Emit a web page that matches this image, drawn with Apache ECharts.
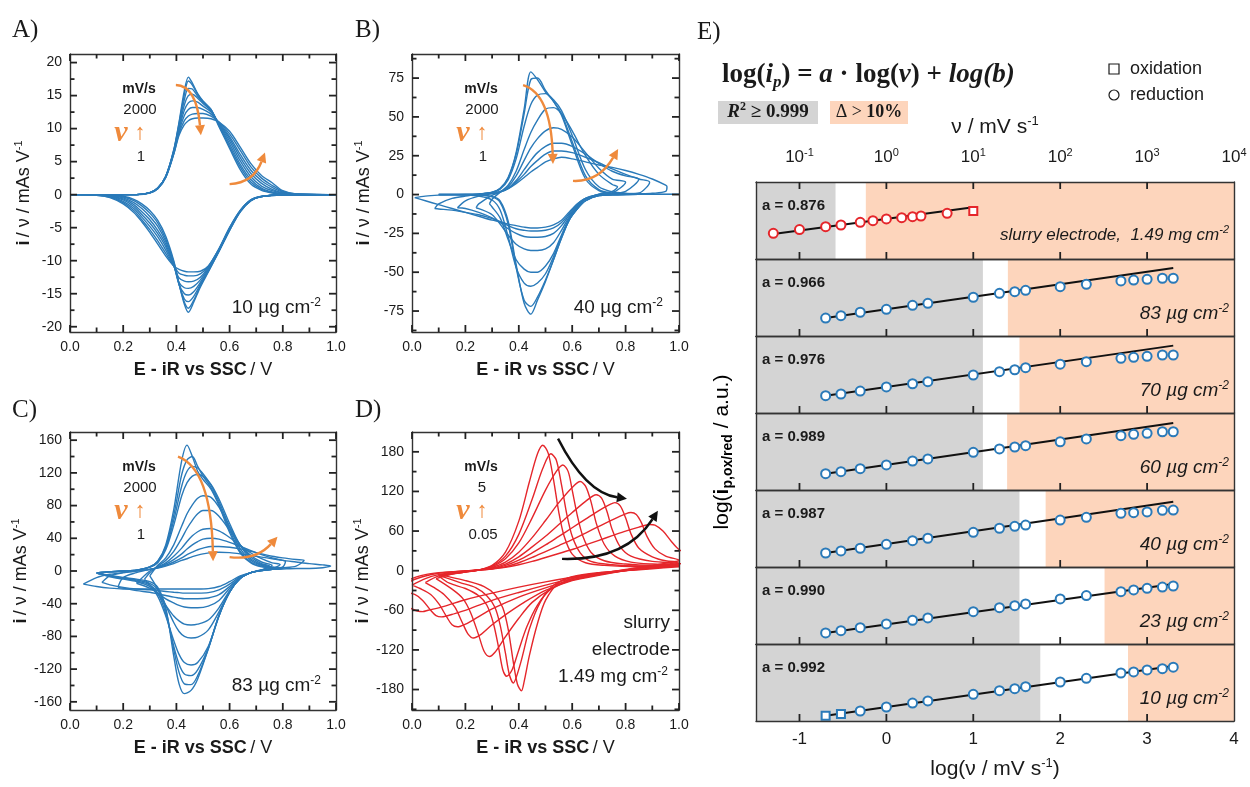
<!DOCTYPE html>
<html>
<head>
<meta charset="utf-8">
<script src="https://cdn.jsdelivr.net/npm/echarts@6/dist/echarts.min.js"></script>
<style>
  html, body { margin: 0; background: #fff; }
  #chart { width: 1250px; height: 787px; }
</style>
</head>
<body>
<div id="chart"></div>
<script>
// ---------- panel A (10 ug cm-2): anodic / cathodic branches on shared potential grids ----------
const A_OX_X = [0.25, 0.3, 0.33, 0.36, 0.39, 0.41, 0.43, 0.445, 0.46, 0.48, 0.5, 0.53, 0.56, 0.6, 0.64, 0.68, 0.72, 0.76, 0.8, 0.85];
const A_OX_Y = [
  [0, 0.3, 1.0, 2.8, 6.8, 11.0, 15.8, 17.8, 16.9, 15.3, 14.2, 12.9, 10.3, 7.0, 3.8, 1.6, 0.65, 0.25, 0.08, 0.02],
  [0, 0.3, 1.0, 2.8, 6.7, 10.8, 15.2, 17.2, 16.6, 15.2, 14.1, 12.9, 10.5, 7.3, 4.2, 1.9, 0.8, 0.3, 0.1, 0.02],
  [0, 0.3, 1.0, 2.8, 6.6, 10.5, 14.4, 16.1, 16.0, 14.9, 14.0, 12.8, 10.6, 7.7, 4.6, 2.3, 1.0, 0.4, 0.12, 0.03],
  [0, 0.3, 1.0, 2.7, 6.5, 10.2, 13.6, 15.0, 15.2, 14.6, 13.8, 12.7, 10.7, 8.1, 5.1, 2.7, 1.3, 0.6, 0.2, 0.05],
  [0, 0.28, 0.95, 2.7, 6.4, 9.9, 12.8, 13.9, 14.2, 14.0, 13.4, 12.5, 10.8, 8.5, 5.6, 3.2, 1.7, 0.8, 0.28, 0.06],
  [0, 0.27, 0.95, 2.7, 6.3, 9.6, 12.0, 12.9, 13.2, 13.2, 12.9, 12.2, 10.9, 8.8, 6.1, 3.7, 2.1, 1.1, 0.38, 0.08],
  [0, 0.26, 0.9, 2.6, 6.2, 9.3, 11.2, 11.9, 12.2, 12.3, 12.3, 11.9, 11.0, 9.2, 6.7, 4.2, 2.5, 1.4, 0.5, 0.1],
  [0, 0.25, 0.9, 2.6, 6.1, 9.0, 10.6, 11.2, 11.5, 11.6, 11.6, 11.5, 11.0, 9.6, 7.2, 4.7, 2.9, 1.8, 0.6, 0.12]
];
const A_RED_X = [0.8, 0.72, 0.68, 0.64, 0.6, 0.56, 0.52, 0.49, 0.465, 0.445, 0.43, 0.41, 0.39, 0.36, 0.33, 0.3, 0.27, 0.24, 0.2, 0.15, 0.1];
const A_RED_Y = [
  [-0.05, -0.3, -0.9, -2.6, -5.4, -8.6, -11.7, -14.0, -16.3, -17.8, -16.6, -13.5, -10.0, -6.3, -3.9, -2.4, -1.4, -0.7, -0.25, -0.05, 0],
  [-0.05, -0.3, -0.9, -2.6, -5.4, -8.6, -11.6, -13.8, -16.0, -17.2, -16.3, -13.5, -10.2, -6.7, -4.3, -2.8, -1.7, -0.9, -0.35, -0.08, 0],
  [-0.05, -0.3, -0.9, -2.5, -5.3, -8.5, -11.5, -13.6, -15.4, -16.2, -15.8, -13.6, -10.4, -7.1, -4.8, -3.3, -2.1, -1.2, -0.5, -0.12, -0.02],
  [-0.03, -0.3, -0.85, -2.5, -5.2, -8.5, -11.4, -13.3, -14.7, -15.2, -15.0, -13.6, -10.6, -7.5, -5.4, -3.8, -2.6, -1.5, -0.65, -0.18, -0.03],
  [-0.02, -0.28, -0.85, -2.5, -5.2, -8.4, -11.2, -12.9, -13.9, -14.2, -14.1, -13.3, -10.7, -7.9, -5.9, -4.3, -3.0, -1.8, -0.8, -0.24, -0.05],
  [-0.02, -0.27, -0.8, -2.5, -5.1, -8.3, -11.0, -12.5, -13.1, -13.2, -13.1, -12.6, -10.8, -8.4, -6.4, -4.8, -3.4, -2.1, -1.0, -0.3, -0.06],
  [-0.01, -0.26, -0.8, -2.4, -5.0, -8.2, -10.9, -12.0, -12.3, -12.3, -12.2, -11.9, -10.8, -8.9, -7.0, -5.3, -3.8, -2.4, -1.2, -0.38, -0.08],
  [0, -0.25, -0.8, -2.4, -5.0, -8.2, -10.8, -11.6, -11.7, -11.7, -11.6, -11.3, -10.8, -9.3, -7.5, -5.7, -4.1, -2.7, -1.4, -0.45, -0.1]
];
const A_TIP_L = [[0, 0], [0, 0], [0, 0], [0, 0], [0, 0], [0, 0], [0, 0], [0, 0]];
const A_TIP_R = [[1, 0], [1, 0], [1, 0], [1, 0], [1, 0], [1, 0], [1, 0], [1, 0]];
const A_YTICKS = [-20, -15, -10, -5, 0, 5, 10, 15, 20];

// ---------- panel B (40 ug cm-2) ----------
const B_OX_X = [0.05, 0.1, 0.15, 0.2, 0.25, 0.3, 0.33, 0.36, 0.39, 0.42, 0.445, 0.47, 0.5, 0.53, 0.56, 0.6, 0.65, 0.7, 0.75, 0.8, 0.85, 0.9, 0.95];
const B_OX_Y = [
  [null, null, 0, 0, 0.3, 1.5, 4, 11, 27, 55, 79, 74, 66, 60, 51, 32, 10, 2.5, 0.6, 0.3, 0.2, 0.1, 0.1],
  [null, null, 0, 0, 0.3, 1.4, 3.8, 10.5, 26, 52, 74, 75, 67, 60, 52, 34, 12, 3.2, 0.9, 0.4, 0.2, 0.1, 0.1],
  [null, null, 0, 0, 0.3, 1.3, 3.5, 9.5, 23, 44, 58, 64, 65, 61, 54, 38, 16, 5, 1.8, 0.8, 0.4, 0.2, 0.1],
  [null, null, null, null, null, -3, 1.5, 6, 15, 29, 40, 48, 55, 56, 52, 41, 25, 13, 6.5, null, null, null, null],
  [null, null, null, null, -6, -0.5, 1.5, 5, 12, 22, 30, 36, 41, 43, 42, 37, 27, 17, 10, null, null, null, null],
  [null, null, null, -4, -1, 0.5, 1.6, 4, 9, 16, 22, 27, 31, 33, 33, 31, 26, 20, 15, 12, null, null, null],
  [null, -6, -2.5, -1, 0, 0.8, 1.7, 3.8, 8, 13, 18, 22, 26, 28, 28, 27, 24, 20.5, 16.5, 13, 10, null, null],
  [-1, -0.4, -0.1, 0, 0.3, 1.0, 2, 3.8, 7, 11, 14.5, 17.5, 21, 23, 24, 23, 21, 19, 17.5, 15.5, 13, 10, 6]
];
const B_RED_X = [0.95, 0.9, 0.85, 0.8, 0.75, 0.7, 0.65, 0.62, 0.59, 0.56, 0.53, 0.5, 0.47, 0.445, 0.42, 0.39, 0.36, 0.33, 0.3, 0.25, 0.2, 0.15, 0.1, 0.05];
const B_RED_Y = [
  [0.1, 0.1, 0.1, 0, -0.2, -0.6, -4, -9, -16, -28, -42, -56, -68, -77, -70, -45, -17, -4, -1.2, -0.3, -0.1, 0, null, null],
  [0.1, 0.1, 0.1, 0, -0.2, -0.6, -4, -9, -16, -28, -42, -55, -66, -72, -68, -47, -19, -5, -1.5, -0.4, -0.1, 0, null, null],
  [0.1, 0.1, 0.1, 0, -0.2, -0.6, -4, -9, -16, -27, -40, -51, -57, -59, -57, -47, -27, -10, -3.5, -1, -0.3, -0.1, null, null],
  [null, null, null, null, 2, 0.3, -3, -8, -15, -26, -38, -46, -50, -50, -48, -42, -29, -15, -8, null, null, null, null, null],
  [null, null, null, null, 1, 0, -3, -7.5, -14, -23, -31, -35, -36, -36, -35, -32, -26, -19, -13, -9, null, null, null, null],
  [null, null, null, 2, 0.7, 0, -2.5, -7, -13, -20, -25, -27, -27.5, -27.5, -27, -25, -22, -18, -15, -11.5, -9, null, null, null],
  [null, 2, 1, 0.5, 0.2, -0.3, -2.5, -6, -12, -18, -21.5, -23, -23.5, -23.5, -23, -22, -20, -17.5, -15.5, -13, -11.5, -10, -9.3, null],
  [2, 0.8, 0.4, 0.2, 0, -0.5, -2.5, -6, -11, -16.5, -19.5, -21, -21.5, -21.5, -21, -20, -19, -17.5, -16.5, -14, -11.5, -9, -6.5, -4]
];
const B_TIP_L = [[0.1, 0], [0.1, 0], [0.1, 0], [0.29, -6], [0.24, -8.5], [0.17, -8.5], [0.085, -9], [0.01, -2]];
const B_TIP_R = [[1, 0.1], [1, 0.1], [1, 0.1], [0.77, 5], [0.8, 8], [0.85, 10], [0.89, 8], [0.955, 5]];
const B_YTICKS = [-75, -50, -25, 0, 25, 50, 75];

// ---------- panel C (83 ug cm-2) ----------
const C_OX_X = [0.05, 0.1, 0.15, 0.2, 0.25, 0.3, 0.33, 0.36, 0.39, 0.42, 0.44, 0.46, 0.48, 0.5, 0.53, 0.56, 0.6, 0.64, 0.68, 0.72, 0.76, 0.8, 0.85, 0.9, 0.95];
const C_OX_Y = [
  [null, null, -1, 0, 1, 5, 12, 32, 75, 135, 154, 140, 122, 112, 100, 80, 47, 22, 10, 5, 3.5, null, null, null, null],
  [null, null, -1, 0, 1, 5, 12, 30, 68, 118, 136, 140, 128, 116, 102, 82, 50, 24, 11, 6, 4, null, null, null, null],
  [null, null, -1, 0, 1, 5, 11, 28, 62, 104, 122, 128, 126, 119, 105, 85, 54, 27, 13, 7, 4.5, null, null, null, null],
  [null, null, -1, 0, 1, 4.5, 10, 26, 56, 92, 108, 116, 118, 116, 106, 88, 58, 31, 15, 8, 5, null, null, null, null],
  [null, null, null, null, null, null, 7, 16, 32, 55, 70, 81, 89, 92, 90, 78, 54, 32, 17, 9, null, null, null, null, null],
  [null, null, null, null, null, -2, 6, 13, 24, 40, 52, 62, 70, 74, 74, 67, 50, 32, 19, 11, null, null, null, null, null],
  [null, null, null, null, null, 0, 5, 10, 18, 28, 36, 43, 48, 51, 52, 49, 41, 31, 22, 15, 10, null, null, null, null],
  [null, null, null, -8, -2, 2, 4.5, 8.5, 14, 21, 27, 32, 36, 39, 40, 39, 35, 30, 25, 20, 16, 13, null, null, null],
  [null, null, -6, -2, 0, 2, 4, 7, 11, 16, 20, 23, 26, 28, 30, 30, 29, 27, 24, 21, 18, 16, 14, null, null],
  [null, -8, -4, -2, 0, 2, 3.5, 6, 9, 13, 15, 17.5, 19.5, 21, 22.5, 23, 22.5, 21, 19, 17, 15, 13, 11, 9, 7.5]
];
const C_RED_X = [0.95, 0.9, 0.85, 0.8, 0.76, 0.72, 0.68, 0.64, 0.6, 0.56, 0.52, 0.48, 0.455, 0.43, 0.41, 0.39, 0.36, 0.33, 0.3, 0.25, 0.2, 0.15, 0.1, 0.05];
const C_RED_Y = [
  [null, null, null, null, 2, 0.5, -2, -9, -26, -55, -95, -132, -146, -150, -138, -104, -45, -20, -13, -10, -8, -5.5, null, null],
  [null, null, null, null, 2, 0.5, -2, -9, -26, -55, -95, -128, -139, -138, -124, -96, -48, -23, -15, -11, -8.5, -6, null, null],
  [null, null, null, null, 2, 0.5, -2, -9, -26, -55, -94, -121, -128, -126, -114, -92, -52, -27, -17, -12, -9, -6.5, null, null],
  [null, null, null, null, 2, 0.5, -2, -9, -26, -54, -92, -112, -115, -112, -102, -85, -55, -31, -19, -13, -10, -7, null, null],
  [null, null, null, null, null, 1, -2, -9, -25, -50, -72, -81, -82, -80, -74, -63, -42, -22, null, null, null, null, null, null],
  [null, null, null, null, null, 1.5, -2, -9, -24, -45, -60, -65, -66, -65, -61, -55, -42, -28, -17, null, null, null, null, null],
  [null, null, null, null, 3, 1, -2, -8, -21, -36, -43, -45, -45, -44, -42, -39, -34, -27, -21, null, null, null, null, null],
  [null, null, null, 5, 3, 1, -2, -8, -19, -29, -33, -34, -34, -34, -33, -32, -30, -28, -26, -24, -21, null, null, null],
  [null, null, 6, 4, 3, 1, -2, -7, -16, -23, -26.5, -27, -27, -27, -26.5, -26, -25, -24, -23, -22, -20, -17, null, null],
  [4, 3, 3, 2.5, 2, 0.5, -2, -6, -13, -19, -21.5, -22, -22, -22, -22, -22, -22, -22, -22, -22, -22, -21, -19, null]
];
const C_TIP_L = [[0.1, -2.5], [0.1, -2.5], [0.1, -2.5], [0.1, -2.5], [0.3, -6], [0.28, -10], [0.25, -15], [0.18, -20], [0.12, -14], [0.05, -16]];
const C_TIP_R = [[0.8, 3], [0.8, 3], [0.8, 3.5], [0.8, 4], [0.75, 6], [0.76, 7], [0.79, 8], [0.81, 12], [0.88, 13], [0.98, 6]];
const C_YTICKS = [-160, -120, -80, -40, 0, 40, 80, 120, 160];

// ---------- panel D (slurry electrode), one point list per branch ----------
const D_OX = [
  [[0.1, -6], [0.2, -2], [0.25, 1], [0.3, 8], [0.35, 28], [0.4, 75], [0.44, 135], [0.47, 177], [0.49, 190], [0.51, 178], [0.53, 138], [0.55, 88], [0.57, 52], [0.6, 25], [0.65, 12], [0.72, 8], [0.85, 6], [1.0, 6]],
  [[0.1, -7], [0.2, -2], [0.25, 1], [0.3, 7], [0.35, 22], [0.4, 55], [0.45, 108], [0.49, 155], [0.52, 177], [0.54, 168], [0.56, 130], [0.58, 85], [0.6, 52], [0.63, 27], [0.67, 14], [0.75, 9], [0.85, 7], [1.0, 7]],
  [[0.1, -8], [0.2, -2], [0.25, 1], [0.3, 6], [0.35, 18], [0.4, 42], [0.45, 80], [0.5, 122], [0.54, 150], [0.565, 160], [0.585, 150], [0.6, 122], [0.62, 82], [0.64, 52], [0.67, 28], [0.72, 15], [0.8, 10], [0.9, 8], [1.0, 8]],
  [[0.09, -12], [0.15, -5], [0.2, -2], [0.25, 1], [0.3, 5], [0.35, 13], [0.4, 28], [0.45, 50], [0.5, 76], [0.55, 103], [0.6, 126], [0.63, 135], [0.65, 128], [0.67, 105], [0.69, 72], [0.72, 40], [0.76, 22], [0.82, 13], [0.9, 10], [1.0, 9]],
  [[0.05, -18], [0.1, -8], [0.15, -4], [0.2, -1], [0.25, 1], [0.3, 4], [0.35, 10], [0.4, 21], [0.45, 36], [0.5, 52], [0.55, 70], [0.6, 88], [0.65, 105], [0.69, 115], [0.71, 110], [0.73, 90], [0.75, 62], [0.78, 36], [0.82, 22], [0.9, 14], [1.0, 11]],
  [[0.0, -22], [0.05, -12], [0.1, -6], [0.15, -3], [0.2, -1], [0.25, 1], [0.3, 3], [0.35, 8], [0.4, 16], [0.45, 27], [0.5, 39], [0.55, 52], [0.6, 65], [0.65, 78], [0.7, 91], [0.74, 100], [0.76, 103], [0.78, 98], [0.8, 80], [0.82, 56], [0.85, 34], [0.9, 21], [0.95, 15], [1.0, 13]],
  [[-0.05, -30], [0.0, -15], [0.05, -8], [0.1, -4], [0.15, -2], [0.2, -0.5], [0.25, 1], [0.3, 3], [0.35, 6], [0.4, 12], [0.45, 20], [0.5, 29], [0.55, 38], [0.6, 47], [0.65, 57], [0.7, 67], [0.75, 77], [0.8, 86], [0.82, 88], [0.84, 85], [0.86, 72], [0.88, 52], [0.91, 33], [0.95, 22], [1.0, 16]],
  [[-0.1, -45], [-0.05, -25], [0.0, -12], [0.05, -6], [0.1, -3], [0.15, -1.5], [0.2, 0], [0.25, 1], [0.3, 2.5], [0.35, 5], [0.4, 9], [0.45, 14], [0.5, 20], [0.55, 26], [0.6, 32], [0.65, 39], [0.7, 46], [0.75, 53], [0.8, 60], [0.85, 66], [0.89, 70], [0.91, 69], [0.94, 60], [0.97, 45], [1.0, 32], [1.05, 20]]
];
const D_RED = [
  [[1.0, 6], [0.9, 3], [0.8, 0], [0.7, -3], [0.6, -9], [0.55, -18], [0.5, -45], [0.47, -80], [0.44, -128], [0.42, -168], [0.41, -182], [0.395, -172], [0.38, -140], [0.36, -88], [0.34, -56], [0.31, -36], [0.27, -24], [0.2, -15], [0.1, -6]],
  [[1.0, 7], [0.9, 4], [0.8, 0], [0.7, -4], [0.6, -10], [0.53, -22], [0.48, -48], [0.44, -88], [0.41, -135], [0.39, -162], [0.38, -170], [0.365, -158], [0.35, -125], [0.33, -82], [0.31, -55], [0.28, -38], [0.24, -26], [0.18, -18], [0.1, -7]],
  [[1.0, 8], [0.9, 4], [0.8, 0], [0.7, -5], [0.6, -12], [0.52, -28], [0.47, -52], [0.43, -85], [0.4, -120], [0.375, -150], [0.355, -160], [0.34, -150], [0.325, -118], [0.305, -80], [0.28, -52], [0.25, -38], [0.2, -27], [0.14, -19], [0.1, -8]],
  [[1.0, 9], [0.9, 5], [0.8, 0], [0.7, -6], [0.6, -14], [0.52, -28], [0.45, -48], [0.4, -72], [0.35, -100], [0.31, -124], [0.29, -130], [0.27, -122], [0.25, -98], [0.22, -64], [0.19, -42], [0.15, -28], [0.09, -12]],
  [[1.0, 11], [0.9, 6], [0.8, 0], [0.7, -7], [0.6, -15], [0.5, -30], [0.42, -48], [0.36, -64], [0.3, -82], [0.26, -96], [0.23, -102], [0.21, -96], [0.19, -80], [0.16, -55], [0.12, -36], [0.08, -25], [0.05, -18]],
  [[1.0, 13], [0.9, 7], [0.8, 1], [0.7, -6], [0.6, -14], [0.5, -26], [0.4, -40], [0.3, -58], [0.24, -72], [0.2, -81], [0.17, -85], [0.15, -82], [0.13, -70], [0.1, -50], [0.07, -36], [0.03, -27], [0.0, -22]],
  [[1.0, 16], [0.9, 8], [0.8, 2], [0.7, -5], [0.6, -12], [0.5, -22], [0.4, -33], [0.3, -45], [0.22, -57], [0.16, -65], [0.11, -70], [0.09, -68], [0.07, -60], [0.04, -45], [0.01, -36], [-0.05, -30]],
  [[1.05, 20], [1.0, 10], [0.9, 5], [0.8, 1], [0.7, -4], [0.6, -10], [0.5, -17], [0.4, -25], [0.3, -34], [0.2, -44], [0.12, -54], [0.06, -60], [0.04, -62], [0.02, -61], [0.0, -58], [-0.05, -50], [-0.1, -45]]
];
const D_YTICKS = [-180, -120, -60, 0, 60, 120, 180];
const CV_XTICKS = [0, 0.2, 0.4, 0.6, 0.8, 1.0];

// ---------- panel E: peak currents vs scan rate ----------
const E_SPEEDS = [0.2, 0.3, 0.5, 1, 2, 3, 10, 20, 30, 40, 100, 200, 500, 700, 1000, 1500, 2000];
const E_SLURRY_SPEEDS = [0.05, 0.1, 0.2, 0.3, 0.5, 0.7, 1, 1.5, 2, 2.5, 5, 10];
const E_SLURRY = [2.00, 2.29, 2.52, 2.65, 2.86, 2.99, 3.12, 3.22, 3.30, 3.35, 3.56, 3.74];
const E_83 = [1.40, 1.58, 1.85, 2.08, 2.39, 2.55, 3.02, 3.33, 3.45, 3.56, 3.84, 4.03, 4.29, 4.36, 4.42, 4.50, 4.50];
const E_70 = [1.35, 1.48, 1.71, 2.03, 2.28, 2.44, 2.96, 3.22, 3.37, 3.53, 3.80, 4.00, 4.26, 4.34, 4.42, 4.52, 4.52];
const E_60 = [1.27, 1.43, 1.66, 1.95, 2.26, 2.42, 2.94, 3.20, 3.35, 3.45, 3.76, 3.98, 4.23, 4.34, 4.42, 4.54, 4.54];
const E_40 = [1.09, 1.25, 1.46, 1.77, 2.05, 2.24, 2.70, 3.02, 3.17, 3.27, 3.66, 3.87, 4.18, 4.23, 4.29, 4.42, 4.44];
const E_23 = [0.86, 1.04, 1.27, 1.56, 1.85, 2.03, 2.52, 2.83, 2.99, 3.12, 3.51, 3.77, 4.08, 4.21, 4.34, 4.44, 4.52];
const E_10 = [0.41, 0.55, 0.78, 1.09, 1.40, 1.56, 2.08, 2.36, 2.52, 2.67, 3.04, 3.33, 3.74, 3.82, 3.98, 4.08, 4.19];
const E_OX_POINTS = [[11], [], [], [], [], [], [0, 1]];     // indices drawn as squares (oxidation)
const E_FIT_X = [[0.05, 10], [0.2, 2000], [0.2, 2000], [0.2, 2000], [0.2, 2000], [0.2, 2000], [0.2, 2000]];
const E_FIT_Y = [[1.95, 4.03], [1.40, 5.30], [1.35, 5.25], [1.27, 5.22], [1.09, 5.09], [0.86, 4.68], [0.41, 4.29]];
const E_A = ['0.876', '0.966', '0.976', '0.989', '0.987', '0.990', '0.992'];
const E_LABELS = ['slurry electrode,  1.49 mg cm', '83 µg cm', '70 µg cm', '60 µg cm', '40 µg cm', '23 µg cm', '10 µg cm'];
const E_GRAY_END = [0.26, 12.9, 12.9, 12.9, 34, 34, 59];
const E_ORANGE_START = [0.58, 25, 34, 24.5, 68, 324, 603];
const E_XTICKS = [0.1, 1, 10, 100, 1000];

// ---------- styling ----------
const SANS = 'Liberation Sans, Arial, sans-serif';
const SERIF = 'Liberation Serif, Times New Roman, serif';
const BLUE = '#2a7ab9';
const RED = '#e5262b';
const ORANGE = '#ef8a3c';
const INK = '#1a1a1a';
const AX = '#333';
const GRAY = '#d4d4d4';
const PEACH = '#fdd5bc';

const CV_GRIDS = [
  { left: 70, top: 54, width: 266, height: 278 },
  { left: 412, top: 54, width: 267, height: 278 },
  { left: 70, top: 432, width: 266, height: 278 },
  { left: 412, top: 432, width: 267, height: 278 }
];
const CV_YRANGE = [[-20.8, 21.3], [-88.5, 90.5], [-170, 170], [-211, 210]];
const CV_YTICKS = [A_YTICKS, B_YTICKS, C_YTICKS, D_YTICKS];
const E_LEFT = 756, E_WIDTH = 478, E_TOP = 182, E_H = 77;
const X_MIN = 0.0316, X_MAX = 10000;

function gridLoops(oxX, oxY, redX, redY, tipL, tipR) {
  return oxY.map((row, k) => {
    const L = tipL[k], R = tipR[k];
    const pts = [L];
    oxX.forEach((x, i) => { if (row[i] != null && x > L[0] && x < R[0]) pts.push([x, row[i]]); });
    pts.push(R);
    redX.forEach((x, i) => { const v = redY[k][i]; if (v != null && x < R[0] && x > L[0]) pts.push([x, v]); });
    pts.push(L);
    return pts;
  });
}

const LOOPS = [
  gridLoops(A_OX_X, A_OX_Y, A_RED_X, A_RED_Y, A_TIP_L, A_TIP_R),
  gridLoops(B_OX_X, B_OX_Y, B_RED_X, B_RED_Y, B_TIP_L, B_TIP_R),
  gridLoops(C_OX_X, C_OX_Y, C_RED_X, C_RED_Y, C_TIP_L, C_TIP_R),
  D_OX.map((ox, k) => ox.concat(D_RED[k].slice(1)))
];
const LOOP_COLORS = [BLUE, BLUE, BLUE, RED];
const E_VALUES = [E_SLURRY, E_83, E_70, E_60, E_40, E_23, E_10];

const supRich = (size) => ({
  n: { fontSize: size, fontFamily: SANS, color: INK, lineHeight: size + 4 },
  b: { fontSize: size, fontFamily: SANS, fontWeight: 'bold', color: INK, lineHeight: size + 4 },
  s: { fontSize: Math.round(size * 0.62), fontFamily: SANS, color: INK, lineHeight: Math.round(size * 0.62) + 1, verticalAlign: 'top' }
});

const grids = [], xAxes = [], yAxes = [], series = [];
const NO_TICK = { show: false };

CV_GRIDS.forEach((g, i) => {
  grids.push(g);
  const [ymin, ymax] = CV_YRANGE[i];
  const line = { show: true, onZero: false, lineStyle: { color: AX, width: 1.4 } };
  xAxes.push({
    gridIndex: i, type: 'value', min: 0, max: 1, interval: 0.2, position: 'bottom', z: 6,
    axisLine: line, axisTick: NO_TICK, splitLine: { show: false },
    axisLabel: { color: INK, fontSize: 14, fontFamily: SANS, margin: 8, formatter: v => v.toFixed(1) },
    name: '{b|E - iR vs SSC} {n|/ V}', nameLocation: 'middle', nameGap: 27,
    nameTextStyle: { rich: supRich(18) }
  });
  xAxes.push({
    gridIndex: i, type: 'value', min: 0, max: 1, interval: 0.2, position: 'top', z: 6,
    axisLine: line, axisTick: NO_TICK, splitLine: { show: false }, axisLabel: { show: false }
  });
  yAxes.push({
    gridIndex: i, type: 'value', min: ymin, max: ymax, position: 'left', z: 6,
    axisLine: line, axisTick: NO_TICK, splitLine: { show: false },
    axisLabel: { customValues: CV_YTICKS[i], color: INK, fontSize: 14, fontFamily: SANS, margin: 8 },
    name: '{b|i} {n|/ ν / mAs V}{s|-1}', nameLocation: 'middle', nameRotate: 90,
    nameGap: i % 2 === 0 ? 35 : 37, nameTextStyle: { rich: supRich(18) }
  });
  yAxes.push({
    gridIndex: i, type: 'value', min: ymin, max: ymax, position: 'right', z: 6,
    axisLine: line, axisTick: NO_TICK, splitLine: { show: false }, axisLabel: { show: false }
  });
  LOOPS[i].forEach(pts => {
    series.push({
      type: 'line', xAxisIndex: 2 * i, yAxisIndex: 2 * i, data: pts,
      symbol: 'none', smooth: 0.3, lineStyle: { color: LOOP_COLORS[i], width: 1.4 }, z: 3
    });
  });
});

const expLabel = v => {
  const e = Math.log10(v);
  return Math.abs(e - Math.round(e)) > 0.01 ? '' : Math.round(e);
};

E_VALUES.forEach((vals, k) => {
  const gi = 4 + k;
  grids.push({ left: E_LEFT, top: E_TOP + k * E_H, width: E_WIDTH, height: E_H });
  const line = { show: true, onZero: false, lineStyle: { color: AX, width: 1.4 } };
  xAxes.push({
    gridIndex: gi, type: 'log', min: X_MIN, max: X_MAX, position: 'bottom', z: 6,
    axisLine: line, axisTick: NO_TICK, splitLine: { show: false },
    axisLabel: { show: k === 6, color: INK, fontSize: 17, fontFamily: SANS, margin: 10, formatter: v => String(expLabel(v)) },
    name: k === 6 ? '{n|log(ν / mV s}{s|-1}{n|)}' : '', nameLocation: 'middle', nameGap: 36,
    nameTextStyle: { rich: supRich(21) }
  });
  xAxes.push({
    gridIndex: gi, type: 'log', min: X_MIN, max: X_MAX, position: 'top', z: 6,
    axisLine: line, axisTick: NO_TICK, splitLine: { show: false },
    axisLabel: {
      show: k === 0, margin: 14,
      formatter: v => { const e = expLabel(v); return e === '' ? '' : '{n|10}{s|' + e + '}'; },
      rich: supRich(17)
    },
    name: k === 0 ? '{n|ν / mV s}{s|-1}' : '', nameLocation: 'middle', nameGap: 42,
    nameTextStyle: { rich: supRich(21) }
  });
  yAxes.push({ gridIndex: gi, type: 'value', min: 0, max: 6, position: 'left', z: 6, axisLine: line, axisTick: NO_TICK, axisLabel: { show: false }, splitLine: { show: false } });
  yAxes.push({ gridIndex: gi, type: 'value', min: 0, max: 6, position: 'right', z: 6, axisLine: line, axisTick: NO_TICK, axisLabel: { show: false }, splitLine: { show: false } });

  const color = k === 0 ? RED : BLUE;
  const speeds = k === 0 ? E_SLURRY_SPEEDS : E_SPEEDS;
  series.push({
    type: 'line', xAxisIndex: 2 * gi, yAxisIndex: 2 * gi, data: [], z: 1, silent: true,
    markArea: {
      silent: true,
      data: [
        [{ xAxis: X_MIN, itemStyle: { color: GRAY } }, { xAxis: E_GRAY_END[k] }],
        [{ xAxis: E_ORANGE_START[k], itemStyle: { color: PEACH } }, { xAxis: X_MAX }]
      ]
    }
  });
  series.push({
    type: 'line', xAxisIndex: 2 * gi, yAxisIndex: 2 * gi, z: 3, symbol: 'none',
    data: E_FIT_X[k].map((x, i) => [x, E_FIT_Y[k][i]]),
    lineStyle: { color: '#111', width: 2 }
  });
  series.push({
    type: 'scatter', xAxisIndex: 2 * gi, yAxisIndex: 2 * gi, z: 4,
    data: vals.map((v, i) => {
      const ox = E_OX_POINTS[k].includes(i);
      return { value: [speeds[i], v], symbol: ox ? 'rect' : 'circle', symbolSize: ox ? 8 : 9 };
    }),
    itemStyle: { color: '#fff', borderColor: color, borderWidth: 2, opacity: 1 }
  });
});

const chart = echarts.init(document.getElementById('chart'));
chart.setOption({
  animation: false,
  backgroundColor: '#fff',
  grid: grids, xAxis: xAxes, yAxis: yAxes, series: series
});

// ---------- annotations ----------
const ANNOT_ARROWS = [
  { panel: 0, from: [0.398, 16.6], ctrl: [0.475, 16.5], to: [0.492, 9.0], color: ORANGE },
  { panel: 0, from: [0.60, 1.6], ctrl: [0.69, 1.8], to: [0.733, 6.4], color: ORANGE },
  { panel: 1, from: [0.416, 70.5], ctrl: [0.52, 65], to: [0.528, 19.7], color: ORANGE },
  { panel: 1, from: [0.603, 8.8], ctrl: [0.70, 8], to: [0.772, 29.3], color: ORANGE },
  { panel: 2, from: [0.406, 140], ctrl: [0.53, 125], to: [0.538, 12], color: ORANGE },
  { panel: 2, from: [0.60, 17], ctrl: [0.70, 13], to: [0.78, 42], color: ORANGE },
  { panel: 3, from: [0.547, 200], ctrl: [0.65, 118], to: [0.805, 109], color: '#111' },
  { panel: 3, from: [0.562, 17.8], ctrl: [0.80, 15], to: [0.921, 90.6], color: '#111' }
];
const CV_SCAN_TEXT = [['2000', '1'], ['2000', '1'], ['2000', '1'], ['5', '0.05']];
const CV_MASS_TEXT = [['10 µg cm'], ['40 µg cm'], ['83 µg cm'], ['slurry', 'electrode', '1.49 mg cm']];

function arrowEls(p0, c, p1, color) {
  const ang = Math.atan2(p1[1] - c[1], p1[0] - c[0]);
  const L = 10, W = 5;
  const bx = p1[0] - L * Math.cos(ang), by = p1[1] - L * Math.sin(ang);
  return [
    { type: 'bezierCurve', silent: true, z: 20,
      shape: { x1: p0[0], y1: p0[1], x2: bx, y2: by, cpx1: c[0], cpy1: c[1] },
      style: { stroke: color, lineWidth: 2.4, fill: 'none' } },
    { type: 'polygon', silent: true, z: 20,
      shape: { points: [[p1[0], p1[1]], [bx + W * Math.sin(ang), by - W * Math.cos(ang)], [bx - W * Math.sin(ang), by + W * Math.cos(ang)]] },
      style: { fill: color } }
  ];
}
function txt(x, y, text, st) {
  return { type: 'text', x, y, z: 20, silent: true,
    style: Object.assign({ text, fill: INK, fontFamily: SANS, fontSize: 15, align: 'center', verticalAlign: 'middle' }, st) };
}
// a tick mark as a short polyline from the frame inward (dx, dy in pixels)
function tick(p, dx, dy) {
  return { type: 'polyline', silent: true, z: 30,
    shape: { points: [[p[0], p[1]], [p[0] + dx, p[1] + dy]] },
    style: { stroke: '#222', lineWidth: 1.8, fill: null } };
}

const gfx = [];

// inside tick marks on all four sides of the CV boxes, placed through the axes
CV_GRIDS.forEach((g, i) => {
  const ix = { xAxisIndex: 2 * i, yAxisIndex: 2 * i };
  const [ymin, ymax] = CV_YRANGE[i];
  const xs = [];
  CV_XTICKS.forEach((x, j) => {
    xs.push([x, 7]);
    if (j < CV_XTICKS.length - 1) xs.push([(x + CV_XTICKS[j + 1]) / 2, 4.5]);
  });
  xs.forEach(([x, len]) => {
    gfx.push(tick(chart.convertToPixel(ix, [x, ymin]), 0, -len));
    gfx.push(tick(chart.convertToPixel(ix, [x, ymax]), 0, len));
  });
  const yt = CV_YTICKS[i];
  const step = yt[1] - yt[0];
  const ys = yt.map(v => [v, 7]);
  for (let v = yt[0] - step / 2; v <= yt[yt.length - 1] + step / 2 + 1e-9; v += step) {
    if (v > ymin && v < ymax) ys.push([v, 4.5]);
  }
  ys.forEach(([y, len]) => {
    gfx.push(tick(chart.convertToPixel(ix, [0, y]), len, 0));
    gfx.push(tick(chart.convertToPixel(ix, [1, y]), -len, 0));
  });
});

// tick marks in panel E: bottom edge of every strip, top edge of the first one
E_VALUES.forEach((v, k) => {
  const gi = 4 + k;
  const ix = { xAxisIndex: 2 * gi, yAxisIndex: 2 * gi };
  E_XTICKS.forEach(x => {
    gfx.push(tick(chart.convertToPixel(ix, [x, 0]), 0, -7));
    if (k === 0) gfx.push(tick(chart.convertToPixel(ix, [x, 6]), 0, 7));
  });
});

ANNOT_ARROWS.forEach(a => {
  const ix = { xAxisIndex: 2 * a.panel, yAxisIndex: 2 * a.panel };
  gfx.push(...arrowEls(chart.convertToPixel(ix, a.from), chart.convertToPixel(ix, a.ctrl), chart.convertToPixel(ix, a.to), a.color));
});

const letters = [['A)', 12, 30], ['B)', 355, 30], ['C)', 12, 410], ['D)', 355, 410], ['E)', 697, 32]];
letters.forEach(([s, x, y]) => gfx.push(txt(x, y, s, { fontFamily: SERIF, fontSize: 25, align: 'left' })));

CV_GRIDS.forEach((g, i) => {
  const gl = g.left, gt = g.top;
  gfx.push(txt(gl + 69, gt + 35, 'mV/s', { fontWeight: 'bold', fontSize: 14 }));
  gfx.push(txt(gl + 70, gt + 56, CV_SCAN_TEXT[i][0], { fontSize: 15 }));
  gfx.push(txt(gl + 51, gt + 79, 'ν', { fontFamily: SERIF, fontStyle: 'italic', fontWeight: 'bold', fontSize: 30, fill: ORANGE }));
  gfx.push(txt(gl + 70, gt + 79, '↑', { fontSize: 22, fill: ORANGE }));
  gfx.push(txt(gl + 71, gt + 103, CV_SCAN_TEXT[i][1], { fontSize: 15 }));
  const m = CV_MASS_TEXT[i];
  if (m.length === 1) {
    gfx.push(txt(gl + 251, gt + 254, '{n|' + m[0] + '}{s|-2}', { align: 'right', rich: supRich(19) }));
  } else {
    gfx.push(txt(gl + 258, gt + 191, m[0], { align: 'right', fontSize: 19 }));
    gfx.push(txt(gl + 258, gt + 218, m[1], { align: 'right', fontSize: 19 }));
    gfx.push(txt(gl + 256, gt + 245, '{n|' + m[2] + '}{s|-2}', { align: 'right', rich: supRich(19) }));
  }
});

E_A.forEach((a, k) => {
  const top = E_TOP + k * E_H;
  gfx.push(txt(762, top + 24, 'a = ' + a, { align: 'left', fontWeight: 'bold', fontSize: 15 }));
  const it = supRich(k === 0 ? 17 : 19);
  Object.values(it).forEach(r => { r.fontStyle = 'italic'; });
  gfx.push(txt(1229, top + (k === 0 ? 53 : 55), '{n|' + E_LABELS[k] + '}{s|-2}', { align: 'right', rich: it }));
});

// header of panel E
const serifRich = {
  r: { fontFamily: SERIF, fontWeight: 'bold', fontSize: 27, color: INK, lineHeight: 32 },
  i: { fontFamily: SERIF, fontWeight: 'bold', fontStyle: 'italic', fontSize: 27, color: INK, lineHeight: 32 },
  sub: { fontFamily: SERIF, fontWeight: 'bold', fontStyle: 'italic', fontSize: 17, color: INK, lineHeight: 16, verticalAlign: 'bottom' }
};
gfx.push(txt(722, 75, '{r|log(}{i|i}{sub|p}{r|) = }{i|a}{r| · log(}{i|v}{r|) + }{i|log}{i|(b)}', { align: 'left', rich: serifRich }));
gfx.push({ type: 'rect', z: 20, silent: true, shape: { x: 1109, y: 64, width: 10, height: 10 }, style: { fill: '#fff', stroke: INK, lineWidth: 1.2 } });
gfx.push(txt(1130, 69, 'oxidation', { align: 'left', fontSize: 18 }));
gfx.push({ type: 'circle', z: 20, silent: true, shape: { cx: 1114, cy: 95, r: 5 }, style: { fill: '#fff', stroke: INK, lineWidth: 1.2 } });
gfx.push(txt(1130, 95, 'reduction', { align: 'left', fontSize: 18 }));
gfx.push({ type: 'rect', z: 19, silent: true, shape: { x: 718, y: 101, width: 100, height: 23 }, style: { fill: GRAY } });
gfx.push(txt(768, 112, '{i|R}{s|2}{r| ≥ 0.999}', { rich: {
  i: { fontFamily: SERIF, fontWeight: 'bold', fontStyle: 'italic', fontSize: 19, color: INK, lineHeight: 22 },
  r: { fontFamily: SERIF, fontWeight: 'bold', fontSize: 19, color: INK, lineHeight: 22 },
  s: { fontFamily: SERIF, fontWeight: 'bold', fontSize: 12, color: INK, lineHeight: 12, verticalAlign: 'top' } } }));
gfx.push({ type: 'rect', z: 19, silent: true, shape: { x: 830, y: 101, width: 78, height: 23 }, style: { fill: PEACH } });
gfx.push(txt(869, 112, '{n|Δ > }{b|10%}', { rich: {
  n: { fontFamily: SERIF, fontSize: 18, color: INK, lineHeight: 22 },
  b: { fontFamily: SERIF, fontWeight: 'bold', fontSize: 18, color: INK, lineHeight: 22 } } }));
gfx.push({ type: 'text', x: 722, y: 452, rotation: Math.PI / 2, z: 20, silent: true,
  style: { text: '{n|log(}{b|i}{bs|p,ox/red}{n| / a.u.)}', align: 'center', verticalAlign: 'middle', rich: {
    n: { fontFamily: SANS, fontSize: 21, color: INK, lineHeight: 26 },
    b: { fontFamily: SANS, fontWeight: 'bold', fontSize: 21, color: INK, lineHeight: 26 },
    bs: { fontFamily: SANS, fontWeight: 'bold', fontSize: 14, color: INK, lineHeight: 16, verticalAlign: 'bottom' } } } });

chart.setOption({ graphic: { elements: gfx } });
</script>
</body>
</html>
